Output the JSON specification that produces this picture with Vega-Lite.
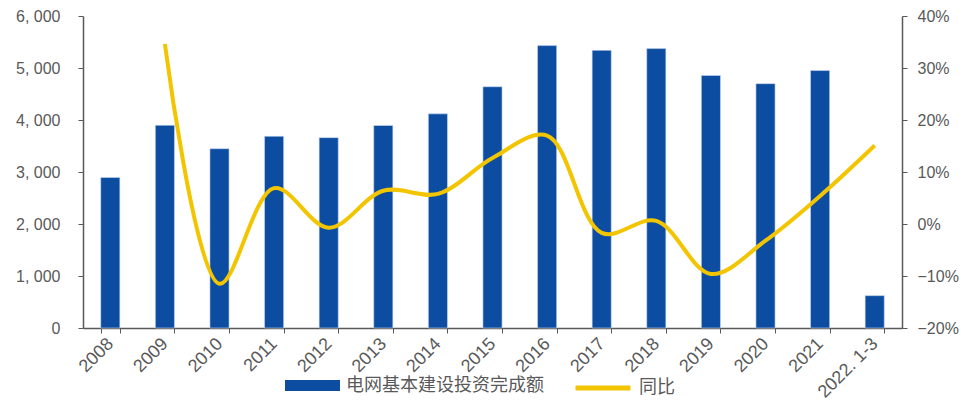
{
  "$schema": "https://vega.github.io/schema/vega-lite/v6.json",
  "autosize": {"type": "none"},
  "width": 819,
  "height": 312,
  "padding": {"left": 83, "top": 16, "right": 61, "bottom": 73},
  "background": "white",
  "config": {
    "view": {"stroke": null},
    "axis": {"labelFont": "Liberation Sans", "labelColor": "#595959", "domainColor": "#595959", "tickColor": "#595959", "grid": false, "title": null, "labelFontSize": 16}
  },
  "data": {
    "values": [
      {"period": "2008", "invest": 2895, "yoy": null},
      {"period": "2009", "invest": 3898, "yoy": 34.6},
      {"period": "2010", "invest": 3448, "yoy": -11.5},
      {"period": "2011", "invest": 3687, "yoy": 6.9},
      {"period": "2012", "invest": 3661, "yoy": -0.7},
      {"period": "2013", "invest": 3894, "yoy": 6.4},
      {"period": "2014", "invest": 4118, "yoy": 5.8},
      {"period": "2015", "invest": 4640, "yoy": 12.7},
      {"period": "2016", "invest": 5431, "yoy": 17.0},
      {"period": "2017", "invest": 5339, "yoy": -1.7},
      {"period": "2018", "invest": 5373, "yoy": 0.6},
      {"period": "2019", "invest": 4856, "yoy": -9.6},
      {"period": "2020", "invest": 4699, "yoy": -3.2},
      {"period": "2021", "invest": 4951, "yoy": 5.4},
      {"period": "2022.1-3", "invest": 622, "yoy": 15.1}
    ]
  },
  "encoding": {
    "x": {
      "field": "period", "type": "ordinal", "sort": null,
      "scale": {"paddingInner": 0.65, "paddingOuter": 0.325},
      "axis": {"labelAngle": -45, "labelAlign": "right", "labelBaseline": "middle", "labelFontSize": 18, "labelExpr": "replace(datum.label, '.', '. ')", "tickBand": "extent", "tickSize": 5, "labelPadding": 8, "domainWidth": 1.5}
    }
  },
  "layer": [
    {
      "mark": {"type": "bar", "stroke": "#c9d8ee", "strokeWidth": 0.6},
      "encoding": {
        "y": {"field": "invest", "type": "quantitative", "scale": {"domain": [0, 6000]},
          "axis": {"values": [0, 1000, 2000, 3000, 4000, 5000, 6000], "labelExpr": "replace(format(datum.value, ','), ',', ', ')", "tickSize": 5, "labelPadding": 18, "domainWidth": 1.5}},
        "fill": {"datum": "电网基本建设投资完成额", "type": "nominal",
          "scale": {"range": ["#0C4DA2"]},
          "legend": {"orient": "none", "legendX": 202, "legendY": 342, "symbolType": "M-1,-0.2H1V0.2H-1Z", "symbolSize": 3025, "symbolStrokeWidth": 0, "labelFont": "Noto Sans CJK SC", "labelFontSize": 18, "labelLimit": 400, "labelColor": "#595959", "title": null, "padding": 0, "labelOffset": 6}}
      }
    },
    {
      "mark": {"type": "line", "interpolate": "catmull-rom", "strokeWidth": 4},
      "encoding": {
        "y": {"field": "yoy", "type": "quantitative", "scale": {"domain": [-20, 40]},
          "axis": {"orient": "right", "values": [-20, -10, 0, 10, 20, 30, 40], "labelExpr": "replace(datum.value + '%', '-', '−')", "tickSize": 5, "labelPadding": 10, "domainWidth": 1.5}},
        "stroke": {"datum": "同比", "type": "nominal",
          "scale": {"range": ["#F2C500"]},
          "legend": {"orient": "none", "legendX": 490, "legendY": 342, "symbolType": "stroke", "symbolSize": 3025, "symbolStrokeWidth": 5, "labelFont": "Noto Sans CJK SC", "labelFontSize": 18, "labelLimit": 400, "labelColor": "#595959", "title": null, "padding": 0, "labelOffset": 6}}
      }
    }
  ],
  "resolve": {"scale": {"y": "independent", "fill": "independent", "stroke": "independent"}}
}
